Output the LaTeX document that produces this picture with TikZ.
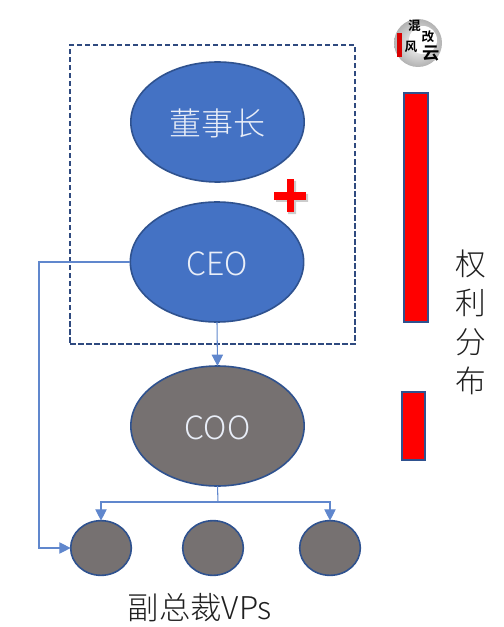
\documentclass[tikz,border=0pt]{standalone}
\usepackage{fontspec}
\usetikzlibrary{shapes.geometric,arrows.meta,shadows,calc}
\newfontfamily\cjk{Noto Sans CJK SC Light}
\newfontfamily\cjkb{Noto Sans CJK SC Bold}
\definecolor{bluefill}{HTML}{4472C4}
\definecolor{blueedge}{HTML}{2F528F}
\definecolor{greyfill}{HTML}{767171}
\definecolor{dashblue}{HTML}{2F4A7F}
\newcommand{\lowered}[1]{\raisebox{-1.2pt}[\height][\depth]{#1}}
\tikzset{
  x=0.75pt,y=-0.75pt,
  oval/.style={ellipse,draw=blueedge,line width=1.2pt,inner sep=0pt,outer sep=0pt,text=white!88!bluefill,font=\cjk\fontsize{24}{24}\selectfont},
  chief/.style={oval,fill=bluefill,minimum width=130pt,minimum height=90pt},
  coofill/.style={oval,fill=greyfill,minimum width=130pt,minimum height=90pt},
  vpnode/.style={oval,fill=greyfill,minimum width=45.5pt,minimum height=41pt},
  link/.style={draw=bluefill!85!white,line width=0.8pt},
  linka/.style={link,-{Triangle[length=8.5pt,width=8.5pt]}},
  powerbar/.style={rectangle,draw=blueedge,line width=1.3pt,fill=red,inner sep=0pt,outer sep=0pt},
  label/.style={inner sep=0pt,text=black!88,font=\cjk\fontsize{23}{23}\selectfont},
  logotext/.style={inner sep=0pt,text=black,font=\cjkb\fontsize{9.5}{9.5}\selectfont},
  plusbar/.style={rectangle,fill=red,inner sep=0pt},
}
\begin{document}
\begin{tikzpicture}
\useasboundingbox (0,0) rectangle (503,627);
% dashed frame
\node[draw=dashblue,line width=1.4pt,dash pattern=on 4pt off 2pt,rectangle,inner sep=0pt,minimum width=213.5pt,minimum height=224pt] (frame) at (212.5,194.5) {};
% ellipses
\node[chief] (chair) at (217.5,122) {\lowered{董事长}};
\node[chief] (ceo) at (217,262) {\lowered{CEO}};
\node[coofill] (coo) at (217.5,426) {\lowered{COO}};
\node[vpnode] (vpa) at (101,548) {};
\node[vpnode] (vpb) at (213,548) {};
\node[vpnode] (vpc) at (330,548) {};
% connectors
\coordinate (leftrail) at (39,262);
\coordinate (branch) at (218,502);
\draw[linka] (ceo.south) -- (coo.north);
\draw[linka] (ceo.west) -- (leftrail) |- (vpa.west);
\draw[link] (coo.south) -- (branch);
\draw[linka] (branch) -| (vpa.north);
\draw[linka] (branch) -| (vpc.north);
% plus
\fill[black!40,opacity=.5] (276,194) rectangle (308,202) (288,181) rectangle (296,214);
\node[plusbar,minimum width=24pt,minimum height=5.4pt] (plusa) at (290,196) {};
\node[plusbar,minimum width=5.6pt,minimum height=24.5pt] (plusb) at (290.5,195.5) {};
% bars
\node[powerbar,minimum width=18pt,minimum height=172pt] (bara) at (416,207.5) {};
\node[powerbar,minimum width=17pt,minimum height=51pt] (barb) at (413.5,426) {};
% labels
\node[label] (q) at (471,264) {权};
\node[label] (li) at (471,303) {利};
\node[label] (fen) at (471,342) {分};
\node[label] (bu) at (471,381) {布};
\node[label,font=\cjk\fontsize{23.5}{23.5}\selectfont] (vps) at (200,608) {副总裁VPs};
% logo
\shade[inner color=white,outer color=black!30] (418,43) circle (24);
\fill[white] (423,40) circle (14);
\fill[red!85!black] (397,33) rectangle (402,57);
\node[logotext] (l1) at (414.5,26) {混};
\node[logotext] (l2) at (428,37) {改};
\node[logotext] (l3) at (411,47) {风};
\node[logotext,font=\cjkb\fontsize{13}{13}\selectfont] (l4) at (431,54) {云};
\end{tikzpicture}
\end{document}
